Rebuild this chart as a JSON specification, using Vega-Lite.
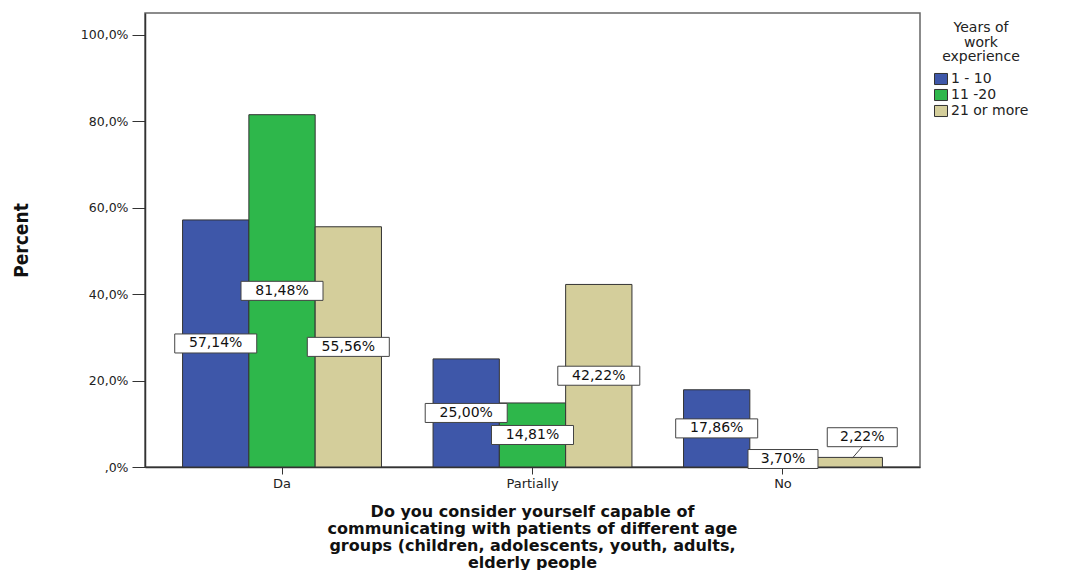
{
  "$schema": "https://vega.github.io/schema/vega-lite/v6.json",
  "width": 775,
  "height": 454,
  "autosize": {"type": "none"},
  "padding": {"left": 145, "top": 13, "right": 145, "bottom": 103},
  "background": "white",
  "config": {
    "locale": {"number": {"decimal": ",", "thousands": ".", "grouping": [3], "currency": ["", " €"]}},
    "view": {"stroke": "#666", "strokeWidth": 1.5},
    "font": "DejaVu Sans"
  },
  "data": {
    "values": [
      {"category": "Da", "group": "1 - 10", "value": 0.5714},
      {"category": "Da", "group": "11 -20", "value": 0.8148},
      {"category": "Da", "group": "21 or more", "value": 0.5556},
      {"category": "Partially", "group": "1 - 10", "value": 0.25},
      {"category": "Partially", "group": "11 -20", "value": 0.1481},
      {"category": "Partially", "group": "21 or more", "value": 0.4222},
      {"category": "No", "group": "1 - 10", "value": 0.1786},
      {"category": "No", "group": "11 -20", "value": 0.037},
      {"category": "No", "group": "21 or more", "value": 0.0222}
    ]
  },
  "encoding": {
    "x": {
      "field": "category",
      "type": "nominal",
      "sort": ["Da", "Partially", "No"],
      "scale": {"paddingInner": 0.206, "paddingOuter": 0.15},
      "axis": {
        "title": ["Do you consider yourself capable of", "communicating with patients of different age", "groups (children, adolescents, youth, adults,", "elderly people"],
        "labelAngle": 0,
        "labelFontSize": 13,
        "labelColor": "#222",
        "labelPadding": 3,
        "tickSize": 7,
        "tickColor": "#333",
        "domainColor": "#333",
        "domainWidth": 1.5,
        "titleFont": "DejaVu Sans",
        "titleFontSize": 16,
        "titleFontWeight": "bold",
        "titleColor": "#111",
        "titleLineHeight": 17,
        "titleX": 387,
        "titleY": 36,
        "titleBaseline": "top",
        "titleAlign": "center"
      }
    },
    "xOffset": {
      "field": "group",
      "type": "nominal",
      "sort": ["1 - 10", "11 -20", "21 or more"],
      "scale": {"paddingInner": 0, "paddingOuter": 0}
    }
  },
  "layer": [
    {
      "mark": {"type": "bar", "stroke": "#333", "strokeWidth": 1},
      "encoding": {
        "y": {
          "field": "value",
          "type": "quantitative",
          "scale": {"domain": [0, 1.05], "nice": false},
          "axis": {
            "values": [0, 0.2, 0.4, 0.6, 0.8, 1],
            "format": ".1%",
            "labelExpr": "datum.value == 0 ? ',0%' : datum.label",
            "grid": false,
            "tickSize": 13,
            "tickColor": "#333",
            "labelPadding": 4,
            "labelFontSize": 12.5,
            "labelColor": "#222",
            "domainColor": "#333",
            "domainWidth": 1.5,
            "title": "Percent",
            "titleFont": "Liberation Sans Narrow, DejaVu Sans Condensed, Liberation Sans, sans-serif",
            "titleFontSize": 19,
            "titleFontWeight": "bold",
            "titleColor": "#111",
            "titleX": -124,
            "titleY": 227,
            "titleAngle": 270,
            "titleBaseline": "middle",
            "titleAlign": "center"
          }
        },
        "color": {
          "field": "group",
          "type": "nominal",
          "sort": ["1 - 10", "11 -20", "21 or more"],
          "scale": {"domain": ["1 - 10", "11 -20", "21 or more"], "range": ["#3E57A9", "#2EB74B", "#D4CE9B"]},
          "legend": {
            "title": ["Years of", "work", "experience"],
            "orient": "none",
            "legendX": 789,
            "legendY": 8,
            "titleFontSize": 14,
            "titleFontWeight": "normal",
            "titleAnchor": "middle",
            "titleAlign": "center",
            "titleLineHeight": 14.5,
            "titleColor": "#222",
            "titlePadding": 8,
            "labelFontSize": 14,
            "labelColor": "#222",
            "labelOffset": 3,
            "symbolType": "M-1,-0.85H1V0.85H-1Z",
            "symbolSize": 169,
            "symbolStrokeColor": "#333",
            "symbolStrokeWidth": 1,
            "symbolOpacity": 1,
            "rowPadding": 0
          }
        }
      }
    },
    {
      "mark": {"type": "point", "filled": true, "fill": "white", "stroke": "#444", "strokeWidth": 1, "opacity": 1, "fillOpacity": 1, "strokeOpacity": 1},
      "encoding": {
        "y": {"field": "value", "type": "quantitative", "scale": {"domain": [0, 2.1], "nice": false}, "axis": null},
        "shape": {
          "condition": [
            {"test": "datum.value < 0.03", "value": "M-0.629,-0.985H1.371V-0.443H-0.629Z M0.086,-0.114L0.371,-0.443"},
            {"test": "datum.value < 0.1", "value": "M-1,-0.271H1V0.271H-1Z"}
          ],
          "value": "M-1,-0.232H1V0.232H-1Z"
        },
        "size": {"condition": {"test": "datum.value < 0.1", "value": 4900}, "value": 6724}
      }
    },
    {
      "transform": [{"filter": "datum.value >= 0.03"}],
      "mark": {"type": "text", "fontSize": 14, "color": "#111", "baseline": "middle", "align": "center"},
      "encoding": {
        "y": {"field": "value", "type": "quantitative", "scale": {"domain": [0, 2.1], "nice": false}, "axis": null},
        "text": {"field": "value", "type": "quantitative", "format": ".2%"}
      }
    },
    {
      "transform": [{"filter": "datum.value < 0.03"}],
      "mark": {"type": "text", "fontSize": 14, "color": "#111", "baseline": "middle", "align": "center", "dx": 13, "dy": -25},
      "encoding": {
        "y": {"field": "value", "type": "quantitative", "scale": {"domain": [0, 2.1], "nice": false}, "axis": null},
        "text": {"field": "value", "type": "quantitative", "format": ".2%"}
      }
    }
  ],
  "resolve": {"scale": {"y": "independent"}}
}
